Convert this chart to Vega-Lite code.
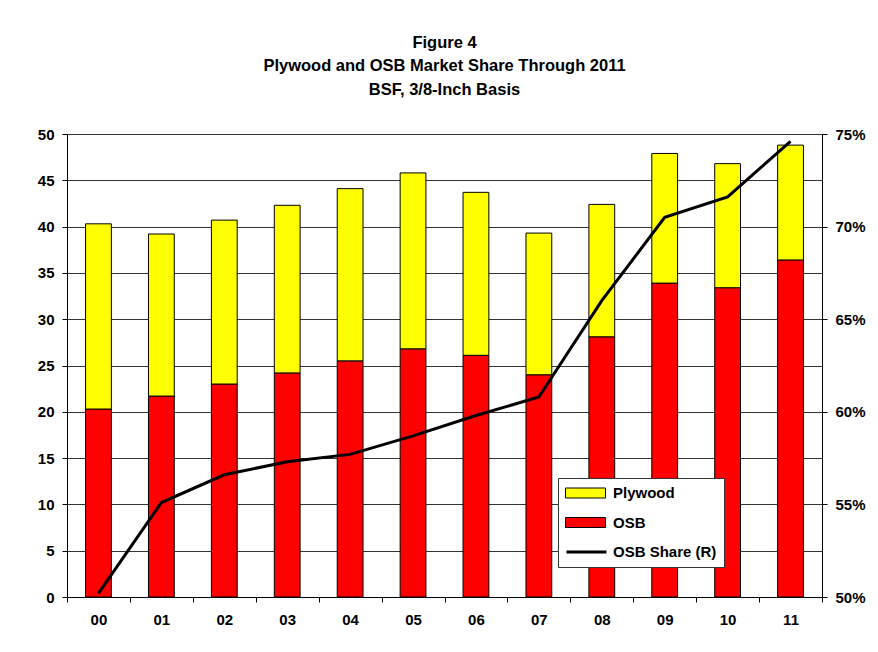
{
  "$schema": "https://vega.github.io/schema/vega-lite/v6.json",
  "width": 755,
  "height": 463,
  "autosize": {"type": "none"},
  "padding": {"left": 67, "top": 134, "right": 56, "bottom": 55},
  "background": "white",
  "config": {
    "font": "Liberation Sans",
    "view": {"stroke": null},
    "axis": {
      "labelFont": "Liberation Sans",
      "labelFontWeight": "bold",
      "labelFontSize": 15,
      "labelColor": "black",
      "domainColor": "black",
      "domainWidth": 1,
      "tickColor": "black",
      "tickSize": 5,
      "title": null
    }
  },
  "title": {
    "text": ["Figure 4", "Plywood and OSB Market Share Through 2011", "BSF, 3/8-Inch Basis"],
    "fontSize": 16.5,
    "fontWeight": "bold",
    "font": "Liberation Sans",
    "lineHeight": 23.5,
    "offset": 29,
    "anchor": "middle",
    "color": "black"
  },
  "datasets": {
    "bars": [
      {"year": "00", "series": "OSB", "value": 20.3}, {"year": "00", "series": "Plywood", "value": 20.0},
      {"year": "01", "series": "OSB", "value": 21.7}, {"year": "01", "series": "Plywood", "value": 17.5},
      {"year": "02", "series": "OSB", "value": 23.0}, {"year": "02", "series": "Plywood", "value": 17.7},
      {"year": "03", "series": "OSB", "value": 24.2}, {"year": "03", "series": "Plywood", "value": 18.1},
      {"year": "04", "series": "OSB", "value": 25.5}, {"year": "04", "series": "Plywood", "value": 18.6},
      {"year": "05", "series": "OSB", "value": 26.8}, {"year": "05", "series": "Plywood", "value": 19.0},
      {"year": "06", "series": "OSB", "value": 26.1}, {"year": "06", "series": "Plywood", "value": 17.6},
      {"year": "07", "series": "OSB", "value": 24.0}, {"year": "07", "series": "Plywood", "value": 15.3},
      {"year": "08", "series": "OSB", "value": 28.1}, {"year": "08", "series": "Plywood", "value": 14.3},
      {"year": "09", "series": "OSB", "value": 33.9}, {"year": "09", "series": "Plywood", "value": 14.0},
      {"year": "10", "series": "OSB", "value": 33.4}, {"year": "10", "series": "Plywood", "value": 13.4},
      {"year": "11", "series": "OSB", "value": 36.4}, {"year": "11", "series": "Plywood", "value": 12.4}
    ],
    "share": [
      {"year": "00", "series": "OSB Share (R)", "share": 0.502},
      {"year": "01", "series": "OSB Share (R)", "share": 0.551},
      {"year": "02", "series": "OSB Share (R)", "share": 0.566},
      {"year": "03", "series": "OSB Share (R)", "share": 0.573},
      {"year": "04", "series": "OSB Share (R)", "share": 0.577},
      {"year": "05", "series": "OSB Share (R)", "share": 0.587},
      {"year": "06", "series": "OSB Share (R)", "share": 0.598},
      {"year": "07", "series": "OSB Share (R)", "share": 0.608},
      {"year": "08", "series": "OSB Share (R)", "share": 0.660},
      {"year": "09", "series": "OSB Share (R)", "share": 0.705},
      {"year": "10", "series": "OSB Share (R)", "share": 0.716},
      {"year": "11", "series": "OSB Share (R)", "share": 0.746}
    ]
  },
  "layer": [
    {
      "data": {"name": "bars"},
      "mark": {"type": "bar", "width": {"band": 0.41}, "stroke": "black", "strokeWidth": 1},
      "encoding": {
        "x": {
          "field": "year", "type": "ordinal",
          "scale": {"paddingInner": 0, "paddingOuter": 0},
          "axis": {"labelAngle": 0, "tickBand": "extent", "grid": false, "labelPadding": 10}
        },
        "y": {
          "field": "value", "type": "quantitative", "stack": "zero",
          "scale": {"domain": [0, 50], "nice": false},
          "axis": {"values": [0, 5, 10, 15, 20, 25, 30, 35, 40, 45, 50], "grid": true, "gridColor": "#333", "gridWidth": 1, "labelPadding": 8}
        },
        "fill": {
          "field": "series", "type": "nominal",
          "scale": {"domain": ["Plywood", "OSB", "OSB Share (R)"], "range": ["#FFFF00", "#FF0000", "transparent"]},
          "legend": {
            "title": null,
            "orient": "none",
            "legendX": 491,
            "legendY": 344,
            "zindex": 1,
            "direction": "vertical",
            "fillColor": "white",
            "strokeColor": "#333",
            "padding": 7,
            "labelFont": "Liberation Sans",
            "labelFontSize": 15,
            "labelFontWeight": "bold",
            "labelColor": "black",
            "labelOffset": 7,
            "clipHeight": 16,
            "rowPadding": 13.5,
            "symbolSize": 1600,
            "symbolType": "M-1,-0.25H1V0.25H-1Z",
            "symbolStrokeColor": "black",
            "symbolStrokeWidth": 1,
            "symbolOpacity": 1
          }
        },
        "order": {"field": "series", "sort": "ascending"}
      }
    },
    {
      "data": {"name": "share"},
      "mark": {"type": "line", "strokeWidth": 3},
      "encoding": {
        "x": {"field": "year", "type": "ordinal"},
        "y": {
          "field": "share", "type": "quantitative",
          "scale": {"domain": [0.5, 0.75], "nice": false, "zero": false},
          "axis": {"orient": "right", "format": ".0%", "values": [0.5, 0.55, 0.6, 0.65, 0.7, 0.75], "grid": false, "labelPadding": 8}
        },
        "stroke": {
          "field": "series", "type": "nominal",
          "scale": {"domain": ["OSB Share (R)"], "range": ["#000000"]},
          "legend": {
            "title": null,
            "orient": "none",
            "legendX": 493,
            "legendY": 405,
            "zindex": 2,
            "padding": 5,
            "fillColor": "white",
            "labelExpr": "''",
            "labelOffset": 0,
            "clipHeight": 16,
            "symbolType": "stroke",
            "symbolSize": 1600,
            "symbolStrokeWidth": 3,
            "symbolOpacity": 1
          }
        }
      }
    }
  ],
  "resolve": {"scale": {"y": "independent"}}
}
